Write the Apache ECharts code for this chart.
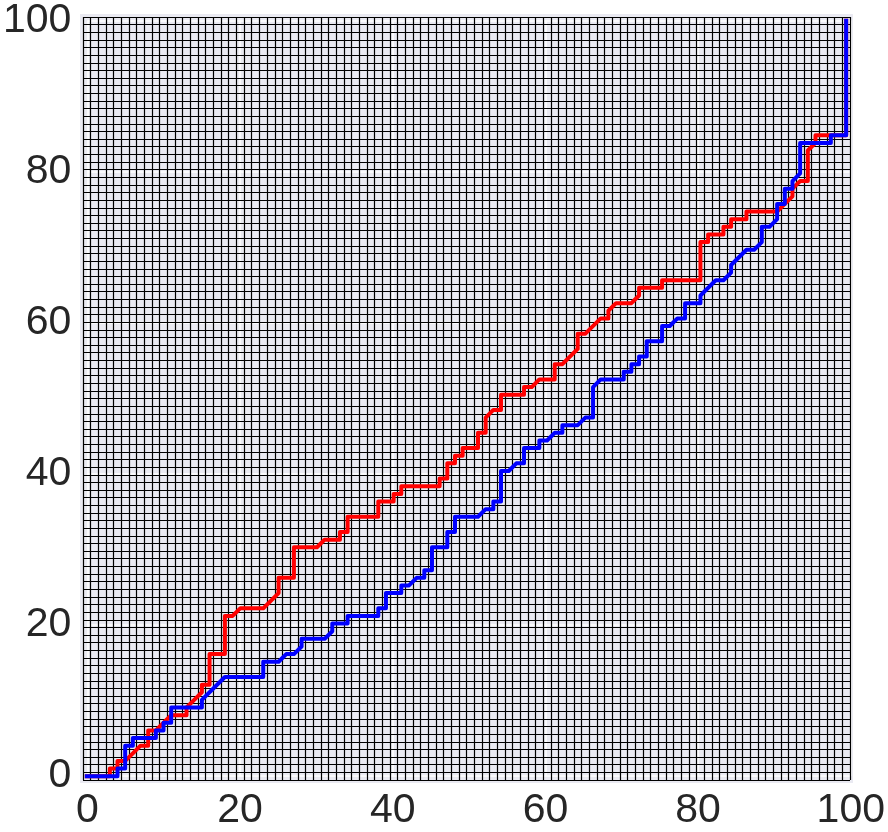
<!DOCTYPE html>
<html>
<head>
<meta charset="utf-8">
<script src="https://cdn.jsdelivr.net/npm/echarts@6/dist/echarts.min.js"></script>
<style>
html,body{margin:0;padding:0;background:#fff;}
#chart{width:888px;height:832px;}
</style>
</head>
<body>
<div id="chart"></div>
<script>
// Warping paths (cell indices)
const redPath = [[0,0],[3,0],[3,1],[4,1],[4,2],[5,2],[6,3],[7,4],[8,4],[8,6],[9,6],[10,7],[11,8],[13,8],[13,9],[14,10],[15,11],[15,12],[16,12],[16,16],[18,16],[18,21],[19,21],[20,22],[23,22],[25,24],[25,26],[27,26],[27,30],[30,30],[31,31],[33,31],[33,32],[34,32],[34,34],[38,34],[38,36],[40,36],[40,37],[41,37],[41,38],[46,38],[46,39],[47,39],[47,41],[48,41],[48,42],[49,42],[49,43],[51,43],[51,45],[52,45],[52,47],[53,48],[54,48],[54,50],[57,50],[57,51],[58,51],[59,52],[61,52],[61,54],[62,54],[64,56],[64,58],[65,58],[67,60],[68,60],[68,61],[69,62],[71,62],[72,63],[72,64],[75,64],[75,65],[80,65],[80,70],[81,70],[81,71],[83,71],[83,72],[84,72],[84,73],[86,73],[86,74],[90,74],[91,75],[92,76],[92,77],[93,78],[94,78],[94,82],[95,83],[95,84],[99,84],[99,99]];
const bluePath = [[0,0],[4,0],[4,1],[5,1],[5,4],[6,4],[6,5],[9,5],[9,6],[10,6],[10,7],[11,7],[11,9],[15,9],[15,10],[18,13],[23,13],[23,15],[25,15],[26,16],[27,16],[28,17],[28,18],[31,18],[32,19],[32,20],[34,20],[34,21],[38,21],[38,22],[39,22],[39,24],[41,24],[41,25],[42,25],[43,26],[44,26],[44,27],[45,27],[45,30],[47,30],[47,32],[48,32],[48,34],[51,34],[52,35],[53,35],[53,36],[54,36],[54,40],[55,40],[56,41],[57,41],[57,43],[59,43],[59,44],[60,44],[61,45],[62,45],[62,46],[64,46],[65,47],[66,47],[66,51],[67,52],[70,52],[70,53],[71,53],[71,54],[72,54],[72,55],[73,55],[73,57],[75,57],[75,59],[76,59],[77,60],[78,60],[78,62],[80,62],[80,63],[82,65],[83,65],[84,66],[84,67],[86,69],[87,69],[88,70],[88,72],[89,72],[90,73],[90,75],[91,75],[91,77],[92,77],[92,78],[93,79],[93,83],[97,83],[97,84],[99,84],[99,99]];
const nCells = 100;          // cells per side
const tickStep = 20;         // tick label step
const tickMax = 100;         // last tick label

const chart = echarts.init(document.getElementById('chart'), null, {renderer: 'canvas'});
const cellW = 767 / nCells, cellH = 763 / nCells;
const plot = {left: 83, top: 17, width: 767, height: 763};
const labelFont = {fontFamily: 'Liberation Sans, Arial, sans-serif', fontSize: 41, color: '#262626'};

chart.setOption({
  animation: false,
  backgroundColor: '#ffffff',
  grid: [
    {left: plot.left, top: plot.top, width: plot.width, height: plot.height,
     show: true, backgroundColor: '#EAEAF2', borderColor: '#EAEAF2', borderWidth: 6, containLabel: false},
    {left: plot.left + cellW / 2, top: plot.top - cellH / 2, width: plot.width, height: plot.height,
     show: false, containLabel: false}
  ],
  xAxis: [
    {gridIndex: 0, type: 'value', min: -0.5, max: nCells - 0.5, show: false},
    {gridIndex: 0, type: 'value', min: 0, max: nCells, interval: 1, z: 2,
     axisLine: {show: false}, axisTick: {show: false}, axisLabel: {show: false},
     splitLine: {show: true, lineStyle: {color: '#000000', width: 1.2}}},
    {gridIndex: 1, type: 'value', min: 0, max: tickMax, interval: tickStep, z: 1,
     axisLine: {show: false}, axisTick: {show: false},
     axisLabel: Object.assign({margin: 14}, labelFont),
     splitLine: {show: true, lineStyle: {color: '#ffffff', width: 1.5}}}
  ],
  yAxis: [
    {gridIndex: 0, type: 'value', min: -0.5, max: nCells - 0.5, show: false},
    {gridIndex: 0, type: 'value', min: 0, max: nCells, interval: 1, z: 2,
     axisLine: {show: false}, axisTick: {show: false}, axisLabel: {show: false},
     splitLine: {show: true, lineStyle: {color: '#000000', width: 1.2}}},
    {gridIndex: 1, type: 'value', min: 0, max: tickMax, interval: tickStep, z: 1,
     axisLine: {show: false}, axisTick: {show: false},
     axisLabel: Object.assign({margin: 16}, labelFont),
     splitLine: {show: true, lineStyle: {color: '#ffffff', width: 1.5}}}
  ],
  series: [
    {type: 'line', xAxisIndex: 0, yAxisIndex: 0, data: redPath, showSymbol: false, symbol: 'none',
     z: 5, clip: false, lineStyle: {color: '#ff0000', width: 4, join: 'round', cap: 'square'}},
    {type: 'line', xAxisIndex: 0, yAxisIndex: 0, data: bluePath, showSymbol: false, symbol: 'none',
     z: 6, clip: false, lineStyle: {color: '#0000ff', width: 4, join: 'round', cap: 'square'}}
  ]
});
</script>
</body>
</html>
